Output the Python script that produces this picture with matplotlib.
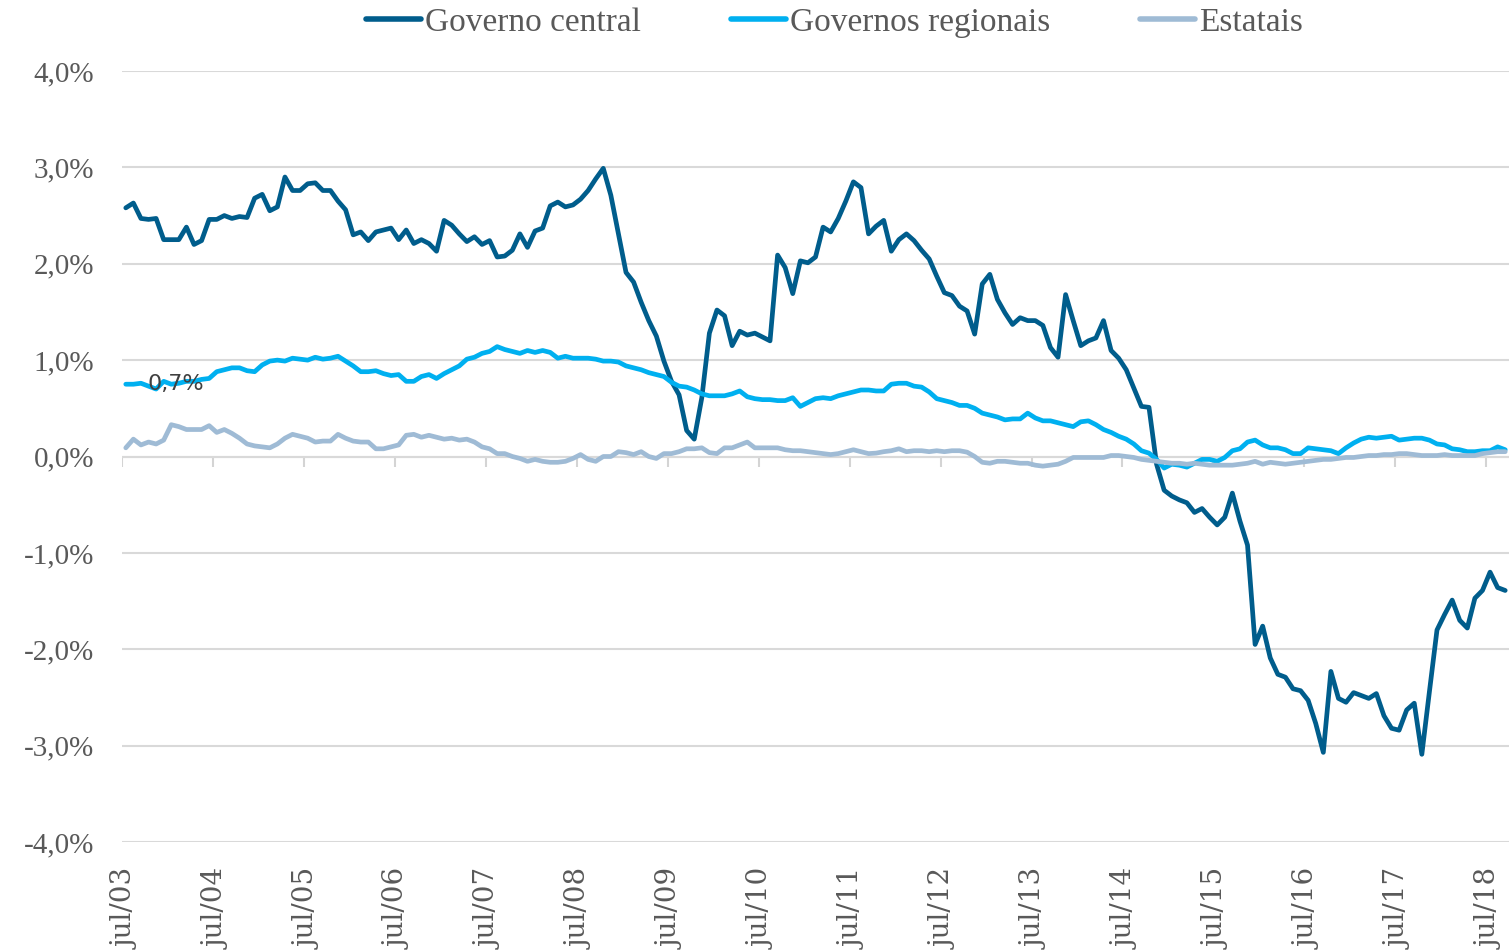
import matplotlib
matplotlib.use("Agg")
import matplotlib.pyplot as plt
import numpy as np

# Monthly series, jul/03 .. sep/18 (% values)
governo_central = [
    2.58, 2.63, 2.47, 2.46, 2.47, 2.25, 2.25, 2.25, 2.38, 2.20, 2.24, 2.46,
    2.46, 2.50, 2.47, 2.49, 2.48, 2.68, 2.72, 2.55, 2.59, 2.90, 2.76, 2.76,
    2.83, 2.84, 2.76, 2.76, 2.65, 2.56, 2.30, 2.33, 2.24, 2.33, 2.35, 2.37,
    2.25, 2.35, 2.21, 2.25, 2.21, 2.13, 2.45, 2.40, 2.31, 2.23, 2.28, 2.20,
    2.24, 2.07, 2.08, 2.14, 2.31, 2.17, 2.34, 2.37, 2.60, 2.64, 2.59, 2.61,
    2.67, 2.76, 2.88, 2.99, 2.71, 2.31, 1.91, 1.81, 1.60, 1.41, 1.25, 0.99,
    0.78, 0.64, 0.27, 0.18, 0.61, 1.28, 1.52, 1.46, 1.15, 1.30, 1.26, 1.28,
    1.24, 1.20, 2.09, 1.96, 1.69, 2.03, 2.01, 2.07, 2.38, 2.33, 2.47, 2.65,
    2.85, 2.79, 2.31, 2.39, 2.45, 2.13, 2.25, 2.31, 2.24, 2.14, 2.05, 1.87,
    1.70, 1.67, 1.56, 1.51, 1.27, 1.79, 1.89, 1.63, 1.49, 1.37, 1.44, 1.41,
    1.41, 1.36, 1.13, 1.03, 1.68, 1.41, 1.15, 1.20, 1.23, 1.41, 1.10, 1.02,
    0.90, 0.71, 0.52, 0.51, -0.08, -0.35, -0.41, -0.45, -0.48, -0.58, -0.54, -0.63,
    -0.71, -0.63, -0.38, -0.67, -0.92, -1.95, -1.76, -2.09, -2.26, -2.29, -2.41, -2.43,
    -2.53, -2.77, -3.07, -2.23, -2.51, -2.55, -2.45, -2.48, -2.51, -2.46, -2.69, -2.82,
    -2.84, -2.63, -2.56, -3.09, -2.44, -1.80, -1.64, -1.49, -1.70, -1.78, -1.47, -1.39,
    -1.20, -1.36, -1.39,
]
governos_regionais = [
    0.75, 0.75, 0.76, 0.73, 0.70, 0.78, 0.75, 0.76, 0.78, 0.78, 0.80, 0.81,
    0.88, 0.90, 0.92, 0.92, 0.89, 0.88, 0.95, 0.99, 1.00, 0.99, 1.02, 1.01,
    1.00, 1.03, 1.01, 1.02, 1.04, 0.99, 0.94, 0.88, 0.88, 0.89, 0.86, 0.84,
    0.85, 0.78, 0.78, 0.83, 0.85, 0.81, 0.86, 0.90, 0.94, 1.01, 1.03, 1.07,
    1.09, 1.14, 1.11, 1.09, 1.07, 1.10, 1.08, 1.10, 1.08, 1.02, 1.04, 1.02,
    1.02, 1.02, 1.01, 0.99, 0.99, 0.98, 0.94, 0.92, 0.90, 0.87, 0.85, 0.83,
    0.77, 0.73, 0.72, 0.69, 0.65, 0.63, 0.63, 0.63, 0.65, 0.68, 0.62, 0.60,
    0.59, 0.59, 0.58, 0.58, 0.61, 0.52, 0.56, 0.60, 0.61, 0.60, 0.63, 0.65,
    0.67, 0.69, 0.69, 0.68, 0.68, 0.75, 0.76, 0.76, 0.73, 0.72, 0.67, 0.60,
    0.58, 0.56, 0.53, 0.53, 0.50, 0.45, 0.43, 0.41, 0.38, 0.39, 0.39, 0.45,
    0.40, 0.37, 0.37, 0.35, 0.33, 0.31, 0.36, 0.37, 0.33, 0.28, 0.25, 0.21,
    0.18, 0.13, 0.06, 0.035, -0.03, -0.12, -0.08, -0.09, -0.11, -0.07, -0.03, -0.03,
    -0.05, -0.01, 0.06, 0.08, 0.15, 0.17, 0.12, 0.09, 0.09, 0.07, 0.03, 0.03,
    0.09, 0.08, 0.07, 0.06, 0.03, 0.09, 0.14, 0.18, 0.20, 0.19, 0.20, 0.21,
    0.17, 0.18, 0.19, 0.19, 0.17, 0.13, 0.12, 0.08, 0.07, 0.05, 0.05, 0.06,
    0.06, 0.10, 0.07,
]
estatais = [
    0.09, 0.18, 0.12, 0.15, 0.13, 0.17, 0.33, 0.31, 0.28, 0.28, 0.28, 0.32,
    0.25, 0.28, 0.24, 0.19, 0.13, 0.11, 0.10, 0.09, 0.13, 0.19, 0.23, 0.21,
    0.19, 0.15, 0.16, 0.16, 0.23, 0.19, 0.16, 0.15, 0.15, 0.08, 0.08, 0.10,
    0.12, 0.22, 0.23, 0.20, 0.22, 0.20, 0.18, 0.19, 0.17, 0.18, 0.15, 0.10,
    0.08, 0.03, 0.03, 0.00, -0.02, -0.05, -0.03, -0.05, -0.06, -0.06, -0.05, -0.02,
    0.02, -0.03, -0.05, 0.00, 0.00, 0.05, 0.04, 0.02, 0.05, 0.00, -0.02, 0.03,
    0.03, 0.05, 0.08, 0.08, 0.09, 0.04, 0.03, 0.09, 0.09, 0.12, 0.15, 0.09,
    0.09, 0.09, 0.09, 0.07, 0.06, 0.06, 0.05, 0.04, 0.03, 0.02, 0.03, 0.05,
    0.07, 0.05, 0.03, 0.035, 0.05, 0.06, 0.08, 0.05, 0.06, 0.06, 0.05, 0.06,
    0.05, 0.06, 0.06, 0.045, 0.00, -0.06, -0.07, -0.05, -0.05, -0.06, -0.07, -0.07,
    -0.09, -0.10, -0.09, -0.08, -0.05, -0.01, -0.01, -0.01, -0.01, -0.01, 0.01, 0.01,
    0.00, -0.01, -0.03, -0.04, -0.05, -0.06, -0.07, -0.07, -0.08, -0.07, -0.08, -0.09,
    -0.09, -0.09, -0.09, -0.08, -0.07, -0.05, -0.08, -0.06, -0.07, -0.08, -0.07, -0.06,
    -0.05, -0.04, -0.03, -0.03, -0.02, -0.01, -0.01, 0.00, 0.01, 0.01, 0.02, 0.02,
    0.03, 0.03, 0.02, 0.01, 0.01, 0.01, 0.02, 0.01, 0.01, 0.01, 0.01, 0.03,
    0.04, 0.05, 0.05,
]

x_labels = ["jul/03", "jul/04", "jul/05", "jul/06", "jul/07", "jul/08", "jul/09",
            "jul/10", "jul/11", "jul/12", "jul/13", "jul/14", "jul/15", "jul/16",
            "jul/17", "jul/18"]
y_ticks = [-4, -3, -2, -1, 0, 1, 2, 3, 4]
y_labels = ["-4,0%", "-3,0%", "-2,0%", "-1,0%", "0,0%", "1,0%", "2,0%", "3,0%", "4,0%"]

series = [
    ("Governo central", governo_central, "#005D8C"),
    ("Governos regionais", governos_regionais, "#00B0F0"),
    ("Estatais", estatais, "#9FBBD5"),
]

n = len(governo_central)
x = np.arange(n)

fig = plt.figure(figsize=(15.09, 9.51), dpi=100)
ax = fig.add_axes([122 / 1509, 1 - 842 / 951, 1 - 122 / 1509, (842 - 71) / 951])

for name, vals, col in series:
    ax.plot(x, vals, color=col, lw=3.4, label=name, solid_joinstyle="round",
            solid_capstyle="round", zorder=3)

ax.set_xlim(-0.5, n - 0.5)
ax.set_ylim(-4, 4)
ax.set_yticks(y_ticks)
ax.set_yticklabels(y_labels, family="Liberation Serif", fontsize=21, color="#595959")
ax.tick_params(axis="y", length=0, pad=20)
ax.grid(axis="y", color="#D9D9D9", lw=1.5, zorder=0)
for s in ax.spines.values():
    s.set_visible(False)

# category axis crosses at zero with year tick marks
ax.axhline(0, color="#D4D4D4", lw=1.5, zorder=1)
bounds = np.arange(-0.5, n, 12)
ax.vlines(bounds, -0.105, 0, color="#D4D4D4", lw=1.5, zorder=1)

ax.set_xticks(np.arange(0, n, 12))
ax.set_xticklabels(x_labels, rotation=90, family="DejaVu Serif", fontsize=20,
                   color="#595959", va="top", ha="center")
ax.tick_params(axis="x", length=0, pad=19)

ax.annotate("0,7%", xy=(0, governos_regionais[0]), xytext=(36, 0),
            textcoords="offset points", ha="center", va="center",
            fontsize=16, color="#404040", family="DejaVu Sans")

leg = fig.legend(loc="upper center", bbox_to_anchor=(0.553, 1.024), ncol=3,
                 frameon=False, prop={"family": "Liberation Serif", "size": 24},
                 handlelength=1.65, handletextpad=0.12, columnspacing=2.7)
for t in leg.get_texts():
    t.set_color("#595959")
for h in leg.get_lines():
    h.set_linewidth(4)

fig.savefig("out.png", dpi=100, facecolor="white")
